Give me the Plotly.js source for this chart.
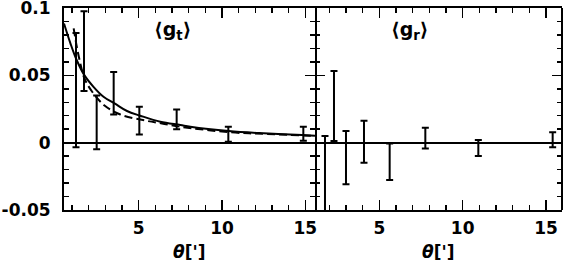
<!DOCTYPE html>
<html>
<head>
<meta charset="utf-8">
<script src="https://cdn.plot.ly/plotly-3.0.1.min.js"></script>
<style>
  html, body { margin: 0; padding: 0; background: #fff; }
  #chart { width: 565px; height: 266px; }
</style>
</head>
<body>
<div id="chart"></div>
<script>
// tangential shear <g_t> (left panel)
const thetaT = [1.24, 1.72, 2.48, 3.5, 5.04, 7.28, 10.38, 14.88];
const gT     = [0.039, 0.068, 0.0151, 0.0368, 0.0164, 0.0173, 0.0062, 0.0066];
const gTErr  = [0.0425, 0.0296, 0.020, 0.0158, 0.0103, 0.0074, 0.0056, 0.0052];

// radial shear <g_r> (right panel)
const thetaR = [1.74, 2.28, 3.0, 4.08, 5.62, 7.76, 10.94, 15.4];
const gR     = [-0.06, 0.0272, -0.0112, 0.0007, -0.0142, 0.0034, -0.004, 0.0021];
const gRErr  = [0.065, 0.026, 0.0198, 0.0156, 0.0136, 0.0077, 0.006, 0.0056];

// model curves
const thetaSolid = [0.52, 0.9, 1.26, 1.74, 2.29, 2.89, 3.55, 4.3, 5.1, 6.3, 7.5, 8.1, 10.4, 12.5, 14.8, 15.58];
const gSolid     = [0.0886, 0.074, 0.062, 0.0502, 0.0415, 0.0341, 0.0292, 0.0235, 0.020, 0.0155, 0.0131, 0.0118, 0.0086, 0.0069, 0.0056, 0.0051];
const thetaDash  = [1.1, 1.27, 1.48, 1.74, 2.2, 2.95, 3.9, 5.4, 6.4, 7.5, 10.5, 12.7, 15.58];
const gDash      = [0.085, 0.0725, 0.060, 0.048, 0.038, 0.0276, 0.0209, 0.0164, 0.0142, 0.0118, 0.0077, 0.0064, 0.0050];

const yTicks = [-0.05, 0, 0.05, 0.1];
const yTickText = ['-0.05', '0', '0.05', '0.1'];
const xTicks = [5, 10, 15];
const xTickText = ['5', '10', '15'];

const FONT = 'DejaVu Sans, sans-serif';
const INK = '#000';

function errTrace(x, y, err, xa, ya) {
  return {
    x: x, y: y, xaxis: xa, yaxis: ya,
    type: 'scatter', mode: 'markers',
    marker: { size: 1, color: 'rgba(0,0,0,0)' },
    error_y: { type: 'data', array: err, visible: true, color: INK, thickness: 2, width: 3.5 },
    hoverinfo: 'none'
  };
}

const traces = [
  {
    x: thetaSolid, y: gSolid, xaxis: 'x', yaxis: 'y',
    type: 'scatter', mode: 'lines',
    line: { color: INK, width: 2, shape: 'spline' },
    hoverinfo: 'none'
  },
  {
    x: thetaDash, y: gDash, xaxis: 'x', yaxis: 'y',
    type: 'scatter', mode: 'lines',
    line: { color: INK, width: 2, dash: '8px,4px', shape: 'spline' },
    hoverinfo: 'none'
  },
  errTrace(thetaT, gT, gTErr, 'x', 'y'),
  errTrace(thetaR, gR, gRErr, 'x2', 'y2')
];

const tickFont = { family: FONT, size: 17, color: INK, weight: 'bold' };

function xAxis(domain, range, anchor) {
  return {
    domain: domain, range: range, anchor: anchor,
    tickvals: xTicks, ticktext: xTickText,
    ticks: 'inside', ticklen: 10, tickwidth: 1.5, tickcolor: INK,
    minor: { dtick: 1, tick0: 0, ticks: 'inside', ticklen: 5, tickwidth: 1.5, tickcolor: INK },
    showline: true, linewidth: 2, linecolor: INK, mirror: 'ticks',
    showgrid: false, zeroline: false,
    tickfont: tickFont, ticklabelstandoff: 2, ticklabeloverflow: 'allow'
  };
}

function yAxis(anchor, labels) {
  return {
    range: [-0.0501, 0.1001], anchor: anchor,
    tickvals: yTicks, ticktext: yTickText,
    showticklabels: labels,
    ticks: 'inside', ticklen: 10, tickwidth: 1.5, tickcolor: INK,
    minor: { dtick: 0.01, tick0: 0, ticks: 'inside', ticklen: 5, tickwidth: 1.5, tickcolor: INK },
    showline: labels, linewidth: 2, linecolor: INK, mirror: 'ticks',
    showgrid: false,
    zeroline: true, zerolinecolor: INK, zerolinewidth: 2,
    tickfont: tickFont, ticklabelstandoff: 8, ticklabeloverflow: 'allow'
  };
}

const labelFont = { family: FONT, size: 19, color: INK, weight: 'bold' };
const titleFont = { family: FONT, size: 17, color: INK, weight: 'bold' };

const layout = {
  width: 565, height: 266,
  margin: { l: 64, r: 3, t: 8, b: 56 },
  paper_bgcolor: '#fff', plot_bgcolor: '#fff',
  showlegend: false,
  xaxis: xAxis([0, 0.504], [0.52, 15.58], 'y'),
  yaxis: yAxis('x', true),
  xaxis2: xAxis([0.504, 1], [1.14, 15.96], 'y2'),
  yaxis2: yAxis('x2', false),
  shapes: [
    // right frame of the right panel (its y axis line is switched off to keep the divider thin)
    { type: 'line', xref: 'x2 domain', yref: 'y2 domain', x0: 1, x1: 1, y0: 0, y1: 1,
      line: { color: INK, width: 2 } }
  ],
  annotations: [
    { xref: 'x domain', yref: 'y domain', x: 0.432, y: 0.89, text: '⟨g<sub>t</sub>⟩',
      showarrow: false, xanchor: 'center', yanchor: 'middle', font: labelFont },
    { xref: 'x2 domain', yref: 'y2 domain', x: 0.383, y: 0.89, text: '⟨g<sub>r</sub>⟩',
      showarrow: false, xanchor: 'center', yanchor: 'middle', font: labelFont },
    { xref: 'x domain', yref: 'y domain', x: 0.5, y: -0.208, text: "<i>θ</i>[']",
      showarrow: false, xanchor: 'center', yanchor: 'middle', font: titleFont },
    { xref: 'x2 domain', yref: 'y2 domain', x: 0.5, y: -0.208, text: "<i>θ</i>[']",
      showarrow: false, xanchor: 'center', yanchor: 'middle', font: titleFont }
  ]
};

Plotly.newPlot('chart', traces, layout, { displayModeBar: false, staticPlot: true });
</script>
</body>
</html>
